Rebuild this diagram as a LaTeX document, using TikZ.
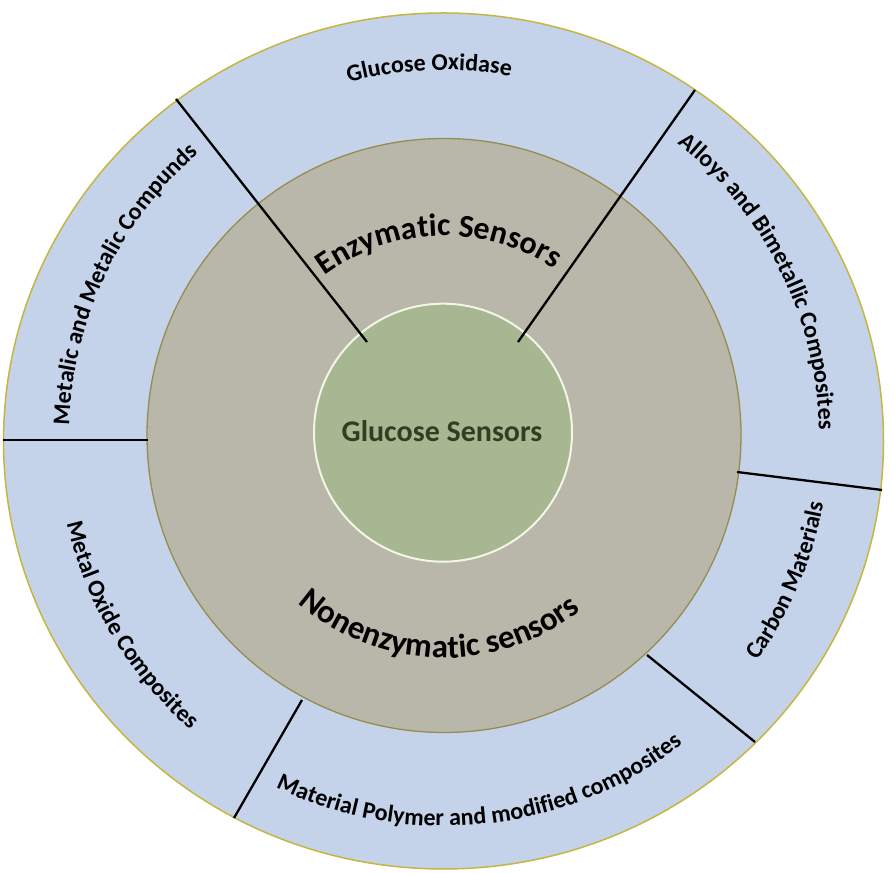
\documentclass[tikz,border=0pt]{standalone}
\usepackage{fontspec}
\setmainfont{Carlito}
\usetikzlibrary{decorations.text}
\definecolor{ringblue}{RGB}{197,211,234}
\definecolor{outerrim}{RGB}{196,182,64}
\definecolor{midgray}{RGB}{185,183,169}
\definecolor{midrim}{RGB}{150,140,80}
\definecolor{innergreen}{RGB}{167,183,146}
\definecolor{innerrim}{RGB}{242,246,228}
\definecolor{gstext}{RGB}{50,62,34}
\newcommand\ringlabel[6]{%
  \path[decorate,decoration={text along path,text align=center,text color=#6,text={|#1|#5}}]
    ([shift={(#2:#4)}]O) arc[start angle=#2,end angle=#3,radius=#4];
}
\tikzset{
  divider/.style={draw=black,line width=2.3pt},
}
\begin{document}
\begin{tikzpicture}[x=1pt,y=1pt]
\useasboundingbox (0,0) rectangle (895,874);
\fill[white] (0,0) rectangle (895,874);
\coordinate (O) at (444,437);
% rings
\filldraw[fill=ringblue,draw=outerrim,line width=1.5pt] (443.5,433) ellipse[x radius=440pt,y radius=428pt];
\filldraw[fill=midgray,draw=midrim,line width=1.3pt] (444,438.5) circle[radius=297pt];
\filldraw[fill=innergreen,draw=innerrim,line width=2pt] (443,441.3) circle[radius=129pt];
% dividers
\coordinate (a1) at (367,532); \coordinate (b1) at (176,775);
\coordinate (a2) at (518,532); \coordinate (b2) at (695,784);
\coordinate (a3) at (148,434); \coordinate (b3) at (3,434);
\coordinate (a4) at (737,402); \coordinate (b4) at (882,384);
\coordinate (a5) at (647,219); \coordinate (b5) at (755,132);
\coordinate (a6) at (302,174); \coordinate (b6) at (234,56);
\foreach \i in {1,...,6}{\draw[divider] (a\i) -- (b\i);}
% centre label
\node[text=gstext] (gs) at (442,443) {\bfseries\fontsize{30}{30}\selectfont Glucose Sensors};
% middle ring labels
\ringlabel{\bfseries\fontsize{32}{32}\selectfont}{141.7}{41.7}{201pt}{Enzymatic Sensors}{black}
\ringlabel{\bfseries\fontsize{33}{33}\selectfont}{208.5}{328.5}{221pt}{Nonenzymatic sensors}{black}
% outer ring labels
\ringlabel{\bfseries\fontsize{24}{24}\selectfont}{122.3}{62.3}{367pt}{Glucose Oxidase}{black}
\ringlabel{\bfseries\fontsize{24}{24}\selectfont}{66.3}{-13.7}{375pt}{Alloys and Bimetallic Composites}{black}
\ringlabel{\bfseries\fontsize{24}{24}\selectfont}{-47.7}{2.3}{385pt}{Carbon Materials}{black}
\ringlabel{\bfseries\fontsize{24}{24}\selectfont}{231.1}{321.1}{389pt}{Material Polymer and modified composites}{black}
\ringlabel{\bfseries\fontsize{24}{24}\selectfont}{181}{241}{387pt}{Metal Oxide Composites}{black}
\ringlabel{\bfseries\fontsize{24}{24}\selectfont}{189.5}{119.5}{375pt}{Metalic and Metalic Compunds}{black}
\end{tikzpicture}
\end{document}
